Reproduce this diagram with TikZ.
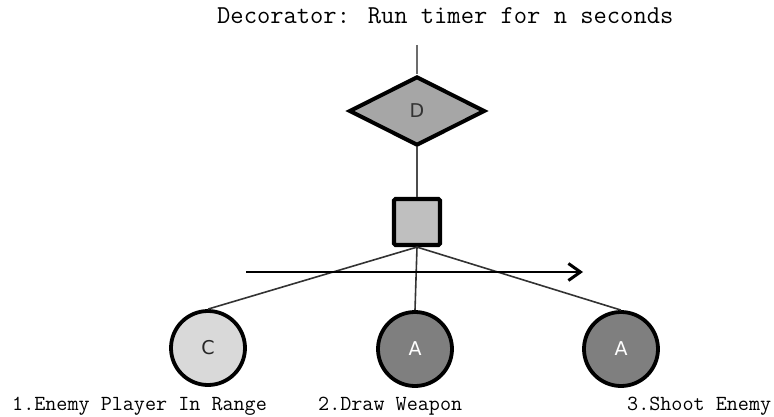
\documentclass[tikz,border=0pt]{standalone}
\usepackage{fontspec}
\setmainfont{DejaVu Sans}
\usetikzlibrary{shapes.geometric,arrows.meta}
\definecolor{decofill}{HTML}{A6A6A6}
\definecolor{seqfill}{HTML}{BFBFBF}
\definecolor{condfill}{HTML}{D9D9D9}
\definecolor{actfill}{HTML}{7F7F7F}
\definecolor{wire}{HTML}{333333}
\tikzset{
  deco/.style={draw, shape=diamond, fill=decofill, line width=4pt, inner sep=0pt,
    minimum width=136pt, minimum height=69pt, font=\fontsize{19}{19}\selectfont, text=black!80},
  seqbox/.style={draw, rectangle, rounded corners=1.5pt, fill=seqfill, line width=4.2pt,
    minimum size=46pt, inner sep=0pt},
  leaf/.style={draw, circle, line width=3.8pt, minimum size=74pt, inner sep=0pt,
    font=\fontsize{19}{19}\selectfont},
  cond/.style={leaf, fill=condfill, text=black!85},
  act/.style={leaf, fill=actfill, text=white},
  wireline/.style={draw=wire, line width=1.6pt},
  caption/.style={font=\ttfamily\fontsize{21.5}{21.5}\selectfont, anchor=base west, inner sep=0pt},
}
\begin{document}
\begin{tikzpicture}[x=1pt,y=-1pt]
\useasboundingbox (0,0) rectangle (774,417);

% title
\node[font=\ttfamily\fontsize{25.8}{25.8}\selectfont, anchor=base west, inner sep=0pt]
  (title) at (217,24) {Decorator: Run timer for n seconds};

% tree nodes
\coordinate (top) at (417,45);
\node[deco] (dec) at (417,111) {D};
\node[seqbox] (seq) at (417,222) {};
\node[cond] (c) at (208,348) {C};
\node[act] (a1) at (415,349) {A};
\node[act] (a2) at (621,349) {A};

% connectors
\draw[wireline, draw=gray!85!black, line width=2pt] (top) -- (dec.north);
\draw[wireline, draw=gray!60!black, line width=1.8pt] (dec.south) -- (seq.north);
\draw[wireline] (seq.south) -- (c.north);
\draw[wireline] (seq.south) -- (a1.north);
\draw[wireline] (seq.south) -- (a2.north);

% execution order arrow
\coordinate (ordstart) at (246,272);
\coordinate (ordend) at (583,272);
\draw[line width=2.6pt, -{Straight Barb[length=12pt,width=17pt,line width=3pt]}] (ordstart) -- (ordend);

% captions
\node[caption] (l1) at (12,410) {1.Enemy Player In Range};
\node[caption] (l2) at (318,410) {2.Draw Weapon};
\node[caption] (l3) at (627,410) {3.Shoot Enemy};
\end{tikzpicture}
\end{document}
